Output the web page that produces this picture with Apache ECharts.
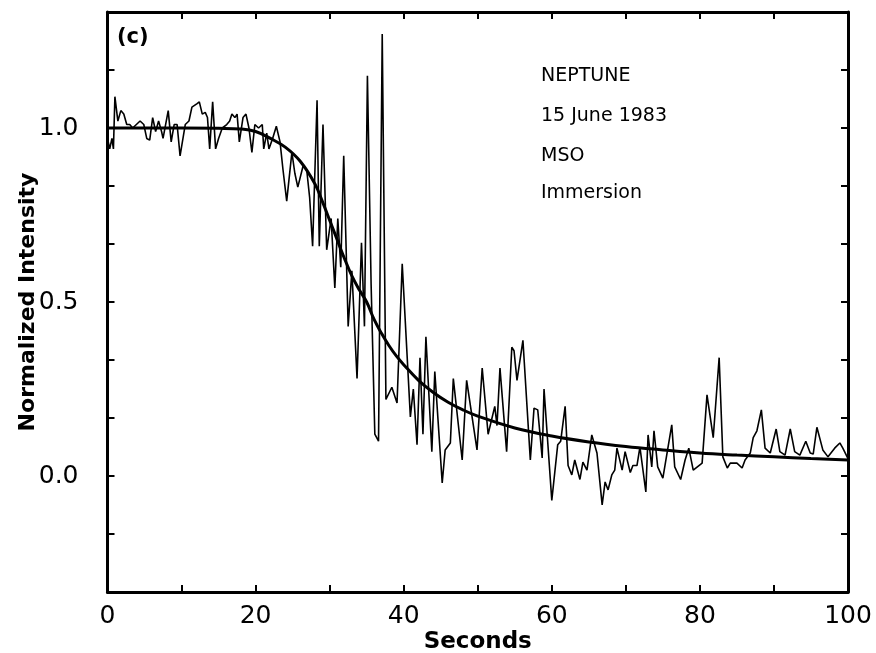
<!DOCTYPE html>
<html>
<head>
<meta charset="utf-8">
<script src="https://cdn.jsdelivr.net/npm/echarts@6/dist/echarts.min.js"></script>
<style>
html,body{margin:0;padding:0;background:#fff;}
#chart{width:876px;height:653px;}
</style>
</head>
<body>
<div id="chart"></div>
<script>
// Observed light curve (time in seconds, normalized intensity)
var obsTime = [0.0,0.3,0.6,0.8,1.0,1.4,1.8,2.2,2.6,3.0,3.4,3.9,4.4,4.9,5.3,5.7,6.1,6.5,6.9,7.3,7.5,8.2,8.6,9.0,9.4,9.8,10.5,11.0,11.4,12.1,12.4,12.8,13.2,13.5,13.8,14.2,14.6,15.0,15.5,16.1,16.5,16.8,17.2,17.5,17.8,18.3,18.7,19.1,19.5,19.9,20.4,20.9,21.1,21.5,21.8,22.3,22.8,23.3,23.7,24.2,24.9,25.3,25.7,26.4,26.9,27.3,27.7,28.3,28.6,29.1,29.6,30.2,30.7,31.1,31.5,31.9,32.5,33.0,33.7,34.3,34.7,35.1,35.6,36.1,36.6,37.1,37.6,38.4,39.1,39.8,40.9,41.3,41.8,42.2,42.6,43.0,43.8,44.2,45.2,45.6,46.3,46.7,47.9,48.5,49.9,50.6,51.4,52.3,52.6,53.0,53.9,54.6,54.9,55.3,56.1,57.1,57.6,58.1,58.7,58.95,60.0,60.8,61.2,61.8,62.2,62.7,63.1,63.8,64.2,64.75,65.4,66.1,66.8,67.2,67.6,68.1,68.5,68.8,69.5,69.9,70.6,70.95,71.5,71.9,72.7,73.0,73.5,73.8,74.3,75.0,76.2,76.6,77.4,78.0,78.5,79.1,80.3,80.96,81.8,82.6,83.1,83.7,84.1,85.0,85.7,86.1,86.8,87.2,87.7,88.3,88.8,89.5,90.3,90.8,91.5,92.2,92.8,93.5,94.3,94.9,95.3,95.8,96.6,97.3,98.2,98.9,99.3,100.0];
var obsIntensity = [0.97,0.94,0.97,0.94,1.09,1.02,1.05,1.04,1.01,1.01,1.0,1.01,1.02,1.01,0.97,0.965,1.03,0.99,1.02,0.99,0.97,1.05,0.96,1.01,1.01,0.92,1.01,1.02,1.06,1.07,1.075,1.04,1.045,1.03,0.94,1.075,0.94,0.97,1.0,1.01,1.02,1.04,1.03,1.04,0.96,1.03,1.04,1.0,0.93,1.01,1.0,1.01,0.94,0.985,0.94,0.97,1.005,0.96,0.88,0.79,0.93,0.87,0.83,0.89,0.88,0.80,0.66,1.08,0.66,1.01,0.65,0.74,0.54,0.74,0.60,0.92,0.43,0.59,0.28,0.67,0.43,1.15,0.55,0.12,0.10,1.27,0.22,0.255,0.21,0.61,0.17,0.25,0.09,0.34,0.12,0.40,0.07,0.30,-0.02,0.075,0.095,0.28,0.046,0.275,0.075,0.31,0.12,0.20,0.145,0.31,0.07,0.37,0.36,0.275,0.39,0.046,0.195,0.19,0.052,0.25,-0.07,0.09,0.10,0.20,0.03,0.003,0.046,-0.01,0.04,0.017,0.118,0.066,-0.083,-0.017,-0.04,0.003,0.017,0.08,0.017,0.07,0.01,0.03,0.03,0.083,-0.046,0.118,0.026,0.13,0.026,-0.006,0.147,0.026,-0.01,0.046,0.08,0.017,0.037,0.233,0.11,0.34,0.055,0.023,0.037,0.037,0.023,0.046,0.066,0.11,0.13,0.19,0.08,0.066,0.135,0.07,0.06,0.135,0.07,0.06,0.10,0.066,0.063,0.14,0.075,0.055,0.08,0.095,0.08,0.05];

// Model fit curve
var fitTime = [0,5,10,15,18,20,22,24,26,28,29,30,31,32,33,34,35,36,37,38,39,40,42,44,46,48,50,55,60,65,70,75,80,85,90,95,100];
var fitIntensity = [1.0,1.0,1.0,0.999,0.997,0.99,0.97,0.945,0.905,0.84,0.79,0.735,0.68,0.625,0.575,0.535,0.50,0.45,0.41,0.375,0.345,0.32,0.275,0.24,0.212,0.19,0.172,0.138,0.115,0.098,0.085,0.075,0.066,0.06,0.055,0.05,0.046];

// Axis ticks / labels
var xTickLabels = [0,20,40,60,80,100];
var yTickLabels = [0.0,0.5,1.0];
var annotationLines = ['NEPTUNE','15 June 1983','MSO','Immersion'];
var panelLabel = '(c)';

var obsData = obsTime.map(function(t,i){return [t, obsIntensity[i]];});
var fitData = fitTime.map(function(t,i){return [t, fitIntensity[i]];});

var FONT = 'DejaVu Sans';
var chart = echarts.init(document.getElementById('chart'), null, {renderer:'canvas'});

function yFmt(v){
  var k = Math.round(v*6);
  for (var i=0;i<yTickLabels.length;i++){ if (Math.round(yTickLabels[i]*6)===k) return yTickLabels[i].toFixed(1); }
  return '';
}
function xFmt(v){
  var r = Math.round(v);
  return xTickLabels.indexOf(r) >= 0 ? String(r) : '';
}
var axLine = {show:true, onZero:false, lineStyle:{color:'#000', width:3}};
var axTick = {show:true, inside:true, length:7, lineStyle:{color:'#000', width:2}};

var textEls = [{
  type:'text', left:117, top:27,
  style:{text:panelLabel, font:'bold 21px "'+FONT+'"', fill:'#000'}
}];
var tops = [67, 107, 147, 184];
annotationLines.forEach(function(s,i){
  textEls.push({type:'text', left:541, top:tops[i], style:{text:s, font:'19px "'+FONT+'"', fill:'#000'}});
});

chart.setOption({
  animation:false,
  backgroundColor:'#fff',
  grid:{left:107.5, right:28, top:12, bottom:61, containLabel:false, outerBoundsMode:'none'},
  xAxis:[{
    type:'value', min:0, max:100, interval:10,
    name:'Seconds', nameLocation:'middle', nameGap:39, nameMoveOverlap:false,
    nameTextStyle:{fontFamily:FONT, fontSize:23, color:'#000', fontWeight:'bold'},
    axisLine:axLine, axisTick:axTick,
    axisLabel:{formatter:xFmt, fontFamily:FONT, fontSize:25, color:'#000', margin:12},
    splitLine:{show:false}
  },{
    type:'value', position:'top', min:0, max:100, interval:10,
    axisLine:axLine, axisTick:axTick, axisLabel:{show:false}, splitLine:{show:false}
  }],
  yAxis:[{
    type:'value', min:-1/3, max:4/3, interval:1/6,
    name:'Normalized Intensity', nameLocation:'middle', nameGap:68, nameMoveOverlap:false,
    nameTextStyle:{fontFamily:FONT, fontSize:22, color:'#000', fontWeight:'bold'},
    axisLine:axLine, axisTick:axTick,
    axisLabel:{formatter:yFmt, fontFamily:FONT, fontSize:25, color:'#000', margin:29},
    splitLine:{show:false}
  },{
    type:'value', position:'right', min:-1/3, max:4/3, interval:1/6,
    axisLine:axLine, axisTick:axTick, axisLabel:{show:false}, splitLine:{show:false}
  }],
  series:[{
    type:'line', data:obsData, showSymbol:false, symbol:'none',
    lineStyle:{color:'#000', width:1.6}, z:2
  },{
    type:'line', data:fitData, smooth:0.4, showSymbol:false, symbol:'none',
    lineStyle:{color:'#000', width:3}, z:3
  }],
  graphic:textEls
});
</script>
</body>
</html>
